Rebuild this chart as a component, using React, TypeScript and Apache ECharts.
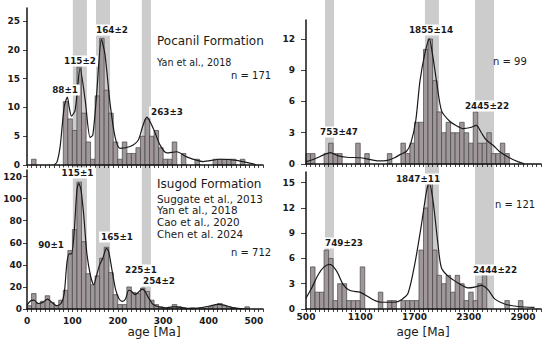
import React, { useEffect, useRef } from 'react';
import * as echarts from 'echarts';

// ---------- Pocanil Formation (top-left), 10 Ma bins ----------
const pocanilBinStart = [10, 80, 90, 100, 110, 120, 130, 140, 150, 160, 170, 180, 190, 200, 210, 220, 230, 240, 250, 260, 270, 280, 290, 300, 310, 320, 340, 370, 410, 420, 430, 440, 450, 470];
const pocanilCounts = [1, 11, 8, 6, 17, 9, 4, 1, 12, 22, 13, 9, 4, 1, 4, 2, 2, 3, 5, 8, 5, 6, 3, 1, 1, 4, 2, 1, 1, 1, 1, 1, 1, 1];
const pocanilCurveAge = [60, 66, 73, 82, 89, 93, 98, 106, 117, 128, 139, 145, 153, 164, 172, 183, 194, 205, 227, 245, 256, 264, 278, 293, 308, 330, 352, 388, 425, 462, 498, 505];
const pocanilCurveVal = [0, 0.5, 3.2, 10.1, 11.8, 10, 8.5, 9.5, 16.8, 11.4, 4.8, 5.2, 11.8, 21.8, 19.1, 10.7, 4.9, 2.9, 3.2, 4.3, 7, 8.3, 6.4, 3.5, 2.1, 2.3, 1.4, 0.6, 1.0, 0.8, 0.2, 0];

// ---------- Isugod Formation (bottom-left), 10 Ma bins ----------
const isugodBinStart = [0, 10, 20, 30, 40, 50, 60, 70, 80, 90, 100, 110, 120, 130, 140, 150, 160, 170, 180, 190, 200, 210, 220, 230, 240, 250, 260, 270, 280, 290, 300, 310, 320, 330, 340, 360, 380, 390, 400, 410, 420, 430, 440, 450, 480];
const isugodCounts = [3, 14, 5, 7, 12, 6, 3, 8, 17, 53, 72, 115, 61, 32, 22, 30, 46, 56, 33, 13, 4, 4, 20, 15, 14, 19, 16, 8, 4, 2, 1, 1, 4, 2, 1, 1, 1, 1, 2, 3, 5, 3, 2, 1, 2];
const isugodCurveAge = [0, 8, 15, 25, 35, 45, 55, 65, 75, 82, 88, 93, 98, 104, 110, 114, 119, 125, 132, 140, 147, 153, 160, 167, 175, 180, 187, 195, 203, 210, 217, 224, 230, 238, 245, 254, 260, 268, 278, 290, 305, 320, 330, 345, 360, 380, 400, 420, 435, 450, 465, 480];
const isugodCurveVal = [3.6, 7.5, 8, 5, 6, 9, 6, 3, 5, 14, 42, 50, 50, 70, 108, 114, 108, 85, 50, 30, 22, 30, 40, 46, 55, 52, 36, 18, 9, 7, 9, 17, 16, 13, 15, 18, 16, 10, 4, 2, 1, 2, 2, 1, 0.5, 1, 2.5, 4.2, 3.5, 1.5, 0.5, 0];

// ---------- n = 99 (top-right), 50 Ma bins ----------
const upperRightBinStart = [500, 550, 700, 750, 800, 850, 1050, 1150, 1400, 1550, 1600, 1650, 1700, 1750, 1800, 1850, 1900, 1950, 2000, 2050, 2100, 2150, 2200, 2250, 2300, 2350, 2400, 2450, 2500, 2550, 2600, 2650, 2700];
const upperRightCounts = [1, 1, 1, 2, 1, 1, 2, 1, 1, 2, 1, 2, 4, 4, 11, 12, 8, 5, 3, 4, 3, 3, 4, 3, 2, 5, 2, 2, 3, 1, 1, 2, 1];
const upperRightCurveAge = [500, 600, 700, 770, 850, 950, 1100, 1200, 1300, 1400, 1480, 1540, 1610, 1660, 1715, 1760, 1815, 1865, 1900, 1945, 2000, 2090, 2160, 2240, 2320, 2385, 2440, 2495, 2570, 2640, 2750, 2850, 2920];
const upperRightCurveVal = [0.2, 0.5, 0.9, 1.1, 0.8, 0.65, 0.6, 0.45, 0.3, 0.35, 0.6, 0.9, 1.2, 2, 4.2, 7.9, 10.6, 12, 10.5, 7.9, 5.1, 4.1, 3.7, 3.4, 3.5, 3.7, 3.0, 2.3, 1.8, 1.2, 0.6, 0.2, 0];

// ---------- n = 121 (bottom-right), 50 Ma bins ----------
const lowerRightBinStart = [550, 600, 650, 700, 750, 800, 850, 900, 950, 1000, 1050, 1100, 1300, 1400, 1450, 1550, 1600, 1650, 1700, 1750, 1800, 1850, 1900, 1950, 2000, 2050, 2100, 2150, 2200, 2250, 2300, 2350, 2400, 2450, 2700, 2850];
const lowerRightCounts = [5, 2, 2, 7, 6, 1, 3, 3, 1, 1, 1, 5, 2, 1, 1, 1, 1, 1, 1, 7, 12, 15, 7, 4, 3, 4, 2, 4, 3, 1, 2, 1, 3, 4, 1, 1];
const lowerRightCurveAge = [500, 563, 636, 700, 765, 839, 912, 986, 1096, 1151, 1243, 1335, 1483, 1556, 1630, 1703, 1777, 1832, 1862, 1906, 1961, 1998, 2072, 2182, 2292, 2366, 2440, 2513, 2587, 2697, 2845, 3028];
const lowerRightCurveVal = [1.3, 2.5, 4.1, 5.0, 5.3, 4.5, 2.9, 2.2, 2.0, 1.7, 1.1, 0.8, 0.8, 1.1, 1.9, 5.3, 10.0, 13.9, 15.0, 12.8, 7.6, 4.9, 3.9, 3.1, 2.5, 2.6, 2.8, 2.3, 1.2, 0.6, 0.3, 0.2];

// ---------- grey bands (age ranges) ----------
const leftBandStart = [101, 152, 253];
const leftBandEnd = [132, 183, 273];
const rightBandStart = [710, 1816, 2370];
const rightBandEnd = [810, 1971, 2580];

const BIN_LEFT = 10;
const BIN_RIGHT = 50;

const FONT = 'DejaVu Sans';
const BAR_FILL = '#a0979a';
const BAR_STROKE = '#454545';
const BAND = '#cccccc';
const INK = '#151515';

function histData(starts: number[], counts: number[], w: number) {
  return starts.map((s, i) => [s, s + w, counts[i]]);
}
function zip(a: number[], b: number[]) {
  return a.map((v, i) => [v, b[i]]);
}

const barRender = (params: any, api: any) => {
  const p0 = api.coord([api.value(0), api.value(2)]);
  const p1 = api.coord([api.value(1), 0]);
  return {
    type: 'rect',
    shape: { x: p0[0], y: p0[1], width: p1[0] - p0[0], height: p1[1] - p0[1] },
    style: { fill: BAR_FILL, stroke: BAR_STROKE, lineWidth: 0.7 },
  };
};
const bandRender = (params: any, api: any) => {
  const p0 = api.coord([api.value(0), 1]);
  const p1 = api.coord([api.value(1), 0]);
  return {
    type: 'rect',
    shape: { x: p0[0], y: p0[1], width: p1[0] - p0[0], height: p1[1] - p0[1] },
    style: { fill: BAND },
  };
};

function xAxisLeft(idx: number, showLabels: boolean) {
  return {
    type: 'value', gridIndex: idx, min: 0, max: 520, interval: 10, z: 10,
    axisLine: { show: true, onZero: false, lineStyle: { color: INK, width: 1.5 } },
    axisTick: { show: true, length: 3, lineStyle: { color: INK, width: 0.8 } },
    splitLine: { show: false },
    axisLabel: {
      show: showLabels, margin: 7, color: '#1a1a1a', fontFamily: FONT, fontWeight: 'bold', fontSize: 9,
      formatter: (v: number) => (v % 100 === 0 && v <= 500 ? String(v) : ''),
    },
  };
}
function xAxisRight(idx: number, showLabels: boolean) {
  return {
    type: 'value', gridIndex: idx, min: 500, max: 3100, interval: 50, z: 10,
    axisLine: { show: true, onZero: false, lineStyle: { color: INK, width: 1.5 } },
    axisTick: { show: true, length: 3, lineStyle: { color: INK, width: 0.8 } },
    splitLine: { show: false },
    axisLabel: {
      show: showLabels, margin: 3, color: '#1a1a1a', fontFamily: FONT, fontWeight: 'bold', fontSize: 9,
      formatter: (v: number) => ((v - 500) % 600 === 0 && v <= 2900 ? String(v) : ''),
    },
  };
}
function yAxis(idx: number, max: number, interval: number, margin: number, tick: number) {
  return {
    type: 'value', gridIndex: idx, min: 0, max, interval, z: 10,
    axisLine: { show: true, lineStyle: { color: INK, width: 1.5 } },
    axisTick: { show: true, length: tick, lineStyle: { color: INK, width: 0.8 } },
    splitLine: { show: false },
    axisLabel: { showMaxLabel: false, margin, color: '#1a1a1a', fontFamily: FONT, fontWeight: 'bold', fontSize: 9 },
  };
}
const hiddenX = (idx: number, min: number, max: number) => ({ type: 'value', gridIndex: idx, min, max, show: false });
const hiddenY = (idx: number) => ({ type: 'value', gridIndex: idx, min: 0, max: 1, show: false });

function txt(x: number, y: number, text: string, size: number, opts: any = {}) {
  return {
    type: 'text', x, y, z: 50,
    style: {
      text, fontFamily: FONT, fontSize: size, fill: opts.fill || '#1a1a1a',
      fontWeight: opts.bold ? 'bold' : 'normal',
      align: opts.align || 'left', verticalAlign: 'middle',
      backgroundColor: opts.bg, padding: opts.bg ? [1, 2, 1, 2] : 0,
    },
  };
}
const peak = (x: number, y: number, text: string) => txt(x, y, text, 8.8, { bold: true, align: 'center', bg: '#ffffff' });

export default function App() {
  const ref = useRef<HTMLDivElement>(null);
  useEffect(() => {
    if (!ref.current) return;
    const chart = echarts.init(ref.current, undefined, { renderer: 'svg' });
    const line = (xi: number, data: number[][]) => ({
      type: 'line', xAxisIndex: xi, yAxisIndex: xi, data, smooth: 0.25,
      showSymbol: false, symbol: 'none', z: 4, silent: true,
      lineStyle: { color: '#1a1a1a', width: 1.2 },
    });
    const bars = (xi: number, data: number[][]) => ({
      type: 'custom', xAxisIndex: xi, yAxisIndex: xi, data, renderItem: barRender, z: 3, silent: true,
      encode: { x: [0, 1], y: 2 },
    });
    const bands = (xi: number, s: number[], e: number[]) => ({
      type: 'custom', xAxisIndex: xi, yAxisIndex: xi, data: zip(s, e), renderItem: bandRender, z: 1, silent: true,
      encode: { x: [0, 1] },
    });
    chart.setOption({
      animation: false,
      backgroundColor: '#ffffff',
      grid: [
        { left: 27, top: 8, width: 236, height: 157 },
        { left: 27, top: 170, width: 236, height: 139 },
        { left: 306, top: 20, width: 235, height: 144 },
        { left: 306, top: 172, width: 235, height: 137 },
        { left: 27, top: 0, width: 236, height: 309 },
        { left: 306, top: 0, width: 235, height: 309 },
      ],
      xAxis: [
        xAxisLeft(0, false),
        xAxisLeft(1, true),
        xAxisRight(2, false),
        xAxisRight(3, true),
        hiddenX(4, 0, 520),
        hiddenX(5, 500, 3100),
      ],
      yAxis: [
        yAxis(0, 27.26, 5, 7, 4),
        yAxis(1, 126, 20, 5, 4),
        yAxis(2, 13.82, 3, 11, 5),
        yAxis(3, 16.27, 3, 11, 5),
        hiddenY(4),
        hiddenY(5),
      ],
      series: [
        bands(4, leftBandStart, leftBandEnd),
        bands(5, rightBandStart, rightBandEnd),
        bars(0, histData(pocanilBinStart, pocanilCounts, BIN_LEFT)),
        line(0, zip(pocanilCurveAge, pocanilCurveVal)),
        bars(1, histData(isugodBinStart, isugodCounts, BIN_LEFT)),
        line(1, zip(isugodCurveAge, isugodCurveVal)),
        bars(2, histData(upperRightBinStart, upperRightCounts, BIN_RIGHT)),
        line(2, zip(upperRightCurveAge, upperRightCurveVal)),
        bars(3, histData(lowerRightBinStart, lowerRightCounts, BIN_RIGHT)),
        line(3, zip(lowerRightCurveAge, lowerRightCurveVal)),
      ],
      graphic: [
        txt(157, 41, 'Pocanil Formation', 12),
        txt(157, 62, 'Yan et al., 2018', 9.6),
        txt(231, 75, 'n = 171', 10),
        txt(157, 184, 'Isugod Formation', 12),
        txt(157, 199, 'Suggate et al., 2013', 10.4),
        txt(157, 210, 'Yan et al., 2018', 10.4),
        txt(157, 222, 'Cao et al., 2020', 10.4),
        txt(157, 234, 'Chen et al. 2024', 10.4),
        txt(231, 252, 'n = 712', 10),
        txt(493, 61, 'n = 99', 10),
        txt(495, 204, 'n = 121', 10),
        txt(154, 332, 'age [Ma]', 12, { align: 'center' }),
        txt(423, 332, 'age [Ma]', 12, { align: 'center' }),
        peak(65, 90, '88±1'),
        peak(80, 61, '115±2'),
        peak(112, 30, '164±2'),
        peak(167, 112, '263±3'),
        peak(77.5, 173, '115±1'),
        peak(51, 245, '90±1'),
        peak(117, 237, '165±1'),
        peak(141, 270, '225±1'),
        peak(159, 281, '254±2'),
        peak(339, 132, '753±47'),
        peak(431, 30, '1855±14'),
        peak(487, 106, '2445±22'),
        peak(418, 179, '1847±11'),
        peak(344, 243, '749±23'),
        peak(495, 270, '2444±22'),
      ],
    });
    return () => chart.dispose();
  }, []);
  return <div ref={ref} style={{ position: 'absolute', left: 0, top: 0, width: 550, height: 344 }} />;
}
